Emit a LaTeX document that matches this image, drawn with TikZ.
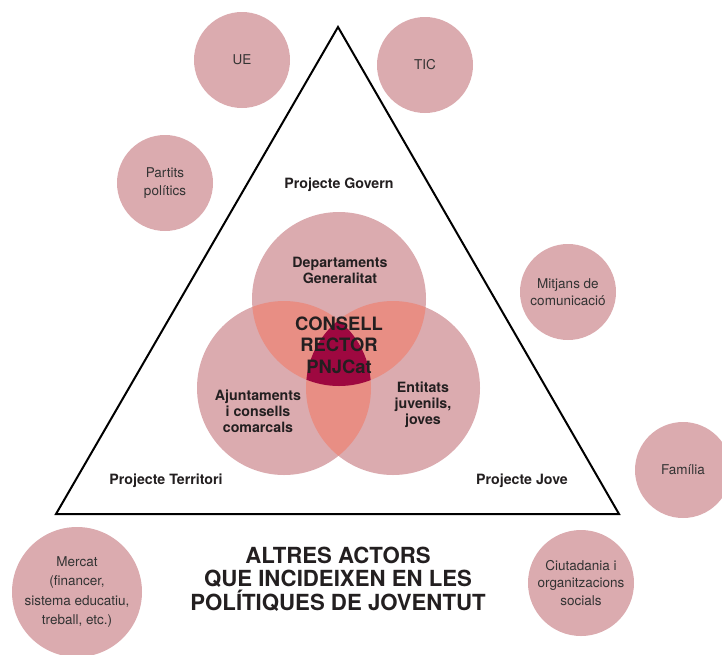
\documentclass[tikz,border=0pt]{standalone}
\usepackage{fontspec}
\setmainfont{TeX Gyre Heros}

\definecolor{actorpink}{HTML}{DBABAF}
\definecolor{overlap}{HTML}{E88E84}
\definecolor{core}{HTML}{9E0840}
\definecolor{ink}{HTML}{333333}
\definecolor{darkink}{HTML}{231F20}

\tikzset{
  actor/.style={circle,fill=actorpink,minimum size=96pt,inner sep=0pt,
    align=center,text=ink,font=\fontsize{13.5}{17.5}\selectfont},
  area/.style={circle,fill=actorpink,minimum size=174pt,inner sep=0pt},
  arealabel/.style={align=center,text=darkink,font=\bfseries\fontsize{14.2}{16}\selectfont},
  project/.style={text=darkink,font=\bfseries\fontsize{14.2}{15}\selectfont},
}

\begin{document}
\begin{tikzpicture}[x=1pt,y=-1pt]
      \useasboundingbox (0,0) rectangle (722,654);
      % Triangle
      \coordinate (apex) at (338,27);
      \coordinate (bl) at (56,514);
      \coordinate (br) at (619,514);
      \draw[line width=2pt] (apex) -- (bl) -- (br) -- cycle;
      % Venn
      \node[area] (gov) at (339,299) {};
      \node[area] (terr) at (284,388) {};
      \node[area] (jove) at (393,388) {};
      \begin{scope}
        \clip (gov) circle (87pt);
        \fill[overlap] (terr) circle (87pt);
        \fill[overlap] (jove) circle (87pt);
      \end{scope}
      \begin{scope}
        \clip (terr) circle (87pt);
        \fill[overlap] (jove) circle (87pt);
      \end{scope}
      \begin{scope}
        \clip (gov) circle (87pt);
        \clip (terr) circle (87pt);
        \fill[core] (jove) circle (87pt);
      \end{scope}
      \node[arealabel] (govtext) at (340,270) {Departaments\\Generalitat};
      \node[arealabel] (terrtext) at (258,411) {Ajuntaments\\i consells\\comarcals};
      \node[arealabel] (jovetext) at (423,405) {Entitats\\juvenils,\\joves};
      \node[align=center,text=darkink,font=\bfseries\fontsize{18.4}{21.5}\selectfont]
        (consell) at (339,345) {CONSELL\\RECTOR\\PNJCat};
      % Projectes
      \node[project] (pgov) at (339,185) {Projecte Govern};
      \node[project] (pterr) at (166,481) {Projecte Territori};
      \node[project] (pjove) at (522,481) {Projecte Jove};
      % Actors
      \node[actor] (ue) at (242,60) {UE};
      \node[actor] (tic) at (425,65) {TIC};
      \node[actor] (partits) at (165,183) {Partits\\polítics};
      \node[actor] (mitjans) at (568,292) {Mitjans de\\comunicació};
      \node[actor] (familia) at (683,470) {Família};
      \node[actor,minimum size=106pt] (ciutadania) at (581,583) {Ciutadania i\\organitzacions\\socials};
      \node[actor,minimum size=130pt,font=\fontsize{13.5}{19.5}\selectfont]
        (mercat) at (77,592) {Mercat\\(financer,\\sistema educatiu,\\treball, etc.)};
      % Title
      \node[align=center,text=darkink,font=\bfseries\fontsize{22.2}{23.5}\selectfont]
        (title) at (338,579) {ALTRES ACTORS\\QUE INCIDEIXEN EN LES\\POLÍTIQUES DE JOVENTUT};
\end{tikzpicture}
\end{document}
